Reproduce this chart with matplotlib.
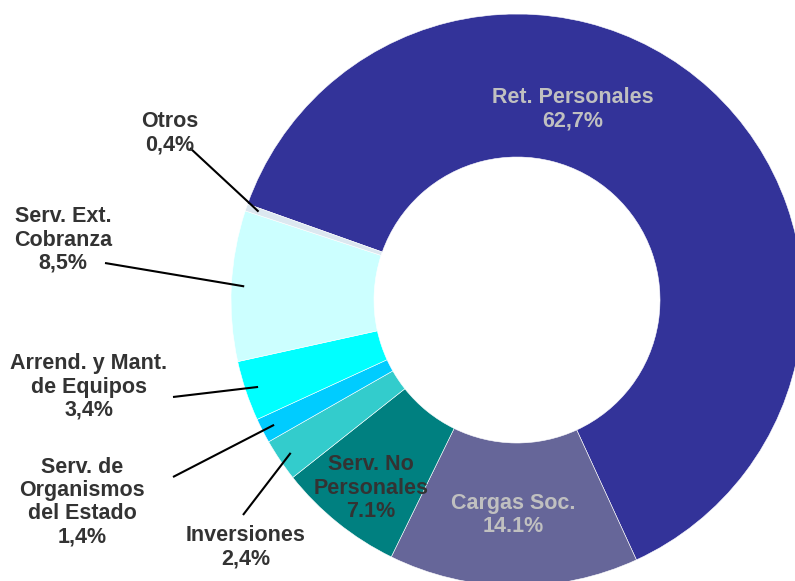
import matplotlib
matplotlib.use("Agg")
import matplotlib.pyplot as plt
import numpy as np

categories = ["Ret. Personales", "Cargas Soc.", "Serv. No\nPersonales", "Inversiones",
              "Serv. de\nOrganismos\ndel Estado", "Arrend. y Mant.\nde Equipos",
              "Serv. Ext.\nCobranza", "Otros"]
values = [62.7, 14.1, 7.1, 2.4, 1.4, 3.4, 8.5, 0.4]
value_labels = ["62,7%", "14.1%", "7.1%", "2,4%", "1,4%", "3,4%", "8,5%", "0,4%"]
colors = ["#333399", "#666699", "#008080", "#33CCCC", "#00CCFF", "#00FFFF", "#CCFFFF", "#DCE8F0"]

W, H = 795, 581
fig = plt.figure(figsize=(W / 100, H / 100), dpi=100)
ax = fig.add_axes([0, 0, 1, 1])
ax.set_xlim(0, W)
ax.set_ylim(0, H)
ax.set_aspect("equal")
ax.axis("off")

cx, cy, R = 517, 281, 286
wedges, _ = ax.pie(values, colors=colors, startangle=160.4, counterclock=False,
                   center=(cx, cy), radius=R, frame=True,
                   wedgeprops=dict(width=R * 0.5, edgecolor="white", linewidth=0.4))
ax.set_xlim(0, W)
ax.set_ylim(0, H)
ax.axis("off")

# label layout (pixel positions, y from top), colors, leader flag
layout = {
    0: ((573, 109), "#C0C0C0", False),
    1: ((513, 515), "#C0C0C0", False),
    2: ((371, 488), "#333333", False),
    3: ((246, 547), "#333333", True),
    4: ((82, 502), "#333333", True),
    5: ((89, 387), "#333333", True),
    6: ((63, 240), "#333333", True),
    7: ((170, 133), "#333333", True),
}
line_starts = {3: (243, 515), 4: (173, 477), 5: (173, 397), 6: (105, 263), 7: (190, 148)}

font = dict(family=["Liberation Sans", "DejaVu Sans"], weight="bold", size=15.5)
for i, w in enumerate(wedges):
    (px, py), col, leader = layout[i]
    ax.text(px, H - py, categories[i] + "\n" + value_labels[i], ha="center", va="center",
            multialignment="center", color=col, linespacing=1.13, **font)
    if leader:
        mid = np.deg2rad((w.theta1 + w.theta2) / 2)
        ex, ey = cx + 0.955 * R * np.cos(mid), cy + 0.955 * R * np.sin(mid)
        sx, sy = line_starts[i]
        ax.plot([sx, ex], [H - sy, ey], color="black", linewidth=1.5, solid_capstyle="butt")

fig.savefig("out.png", dpi=100)
